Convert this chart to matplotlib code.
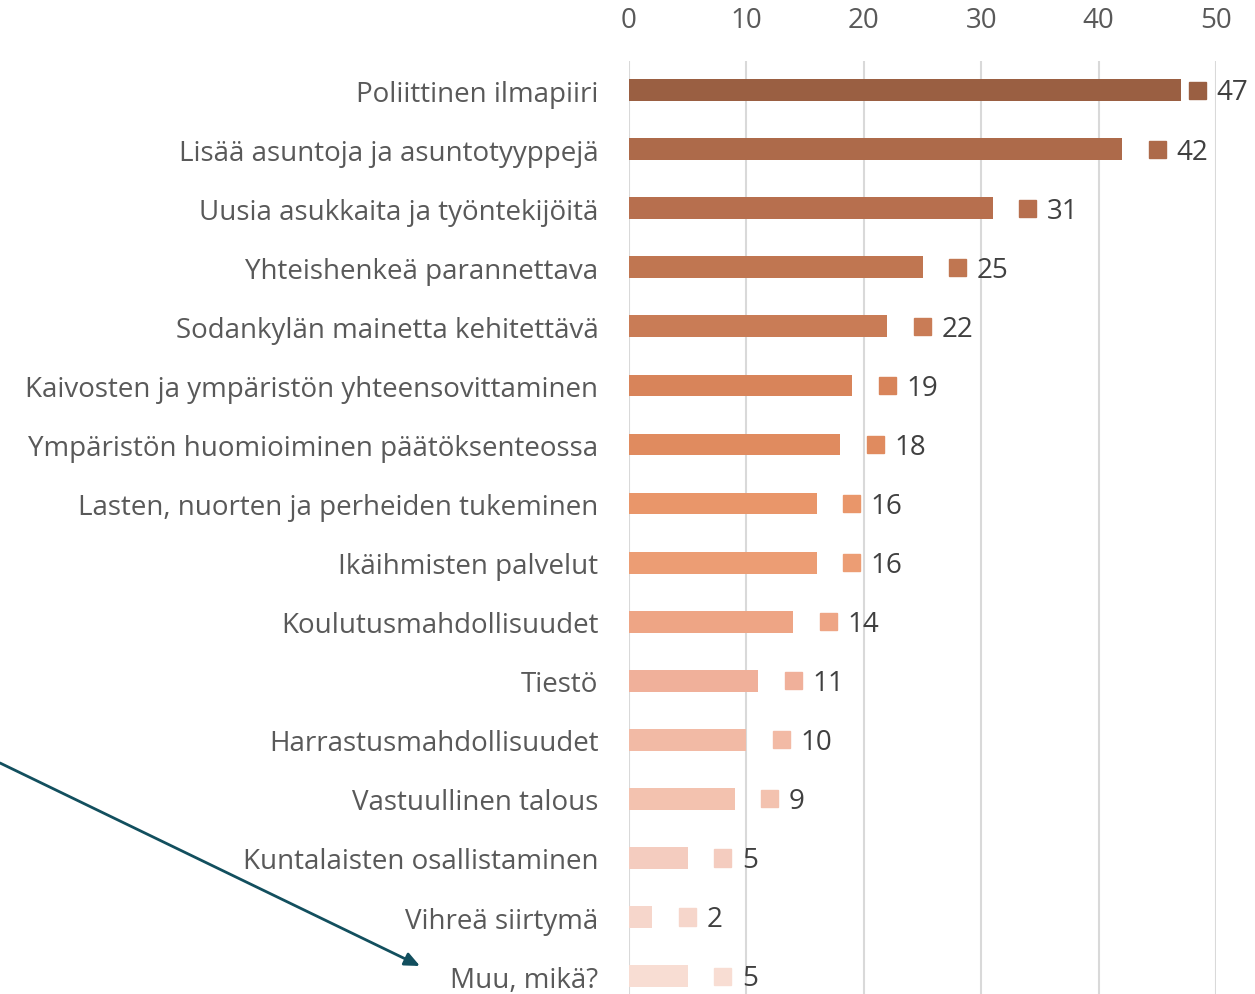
import matplotlib
matplotlib.use('Agg')
import matplotlib.pyplot as plt
from matplotlib.patches import Rectangle

plt.rcParams['font.family'] = ['Open Sans', 'DejaVu Sans']

categories = [
    'Poliittinen ilmapiiri',
    'Lisää asuntoja ja asuntotyyppejä',
    'Uusia asukkaita ja työntekijöitä',
    'Yhteishenkeä parannettava',
    'Sodankylän mainetta kehitettävä',
    'Kaivosten ja ympäristön yhteensovittaminen',
    'Ympäristön huomioiminen päätöksenteossa',
    'Lasten, nuorten ja perheiden tukeminen',
    'Ikäihmisten palvelut',
    'Koulutusmahdollisuudet',
    'Tiestö',
    'Harrastusmahdollisuudet',
    'Vastuullinen talous',
    'Kuntalaisten osallistaminen',
    'Vihreä siirtymä',
    'Muu, mikä?',
]
values = [47, 42, 31, 25, 22, 19, 18, 16, 16, 14, 11, 10, 9, 5, 2, 5]
colors = ['#9A5F42', '#AD6A4A', '#B76F4E', '#C07651', '#C97C56', '#D8845A',
          '#E08B5F', '#E9966A', '#EC9D74', '#EEA585', '#F0B09A', '#F2BAA5',
          '#F3C2AF', '#F4CCBF', '#F6D6CB', '#F8DDD3']
x_ticks = [0, 10, 20, 30, 40, 50]

W, H = 1255, 995
fig = plt.figure(figsize=(W / 100, H / 100), dpi=100)
# rows 59 px apart, first row centred at y=91 px
ax = fig.add_axes([629 / W, (H - 1006.6) / H, (1216 - 629) / W, 945 / H])

y = list(range(len(categories)))
ax.barh(y, values, color=colors, height=0.37, zorder=3)
ax.set_ylim(len(categories) - 0.5, -0.5)
ax.set_xlim(0, 50)

ax.set_yticks(y)
ax.set_yticklabels(categories, fontsize=20, color='#595959')
ax.set_xticks(x_ticks)
ax.set_xticklabels([str(t) for t in x_ticks], fontsize=20, color='#595959')
ax.xaxis.tick_top()
ax.tick_params(axis='both', length=0)
ax.tick_params(axis='y', pad=22)
ax.tick_params(axis='x', pad=19)
ax.grid(axis='x', color='#D9D9D9', linewidth=1.5, zorder=0)
for s in ax.spines.values():
    s.set_visible(False)

# data labels with legend-key squares
unit = (1216 - 629) / 50  # pixels per unit
sq_w = 17 / unit
sq_h = 0.29
for i, (v, c) in enumerate(zip(values, colors)):
    cx = min(v + 35 / unit, 48.4)
    ax.add_patch(Rectangle((cx - sq_w / 2, i - sq_h / 2), sq_w, sq_h,
                           color=c, zorder=3, clip_on=False))
    ax.text(cx + 19 / unit, i + 0.04, str(v), va='center', ha='left',
            fontsize=20, color='#404040', clip_on=False)

# arrow pointing to "Muu, mikä?"
ax.annotate('', xy=(420 / W, 1 - 967 / H), xytext=(0, 1 - 764 / H),
            xycoords='figure fraction', textcoords='figure fraction',
            arrowprops=dict(arrowstyle='-|>,head_length=0.9,head_width=0.4',
                            color='#124F5E', lw=2, shrinkA=0, shrinkB=0))

plt.savefig('out.png', dpi=100)
